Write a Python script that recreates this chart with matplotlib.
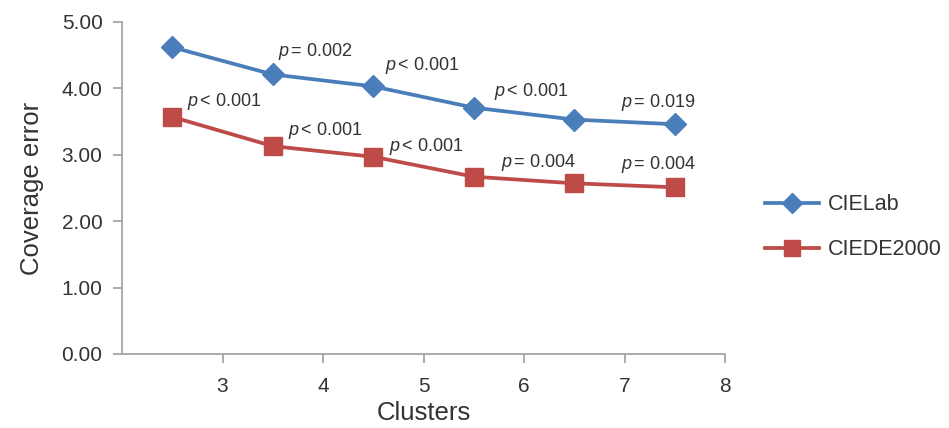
import matplotlib
matplotlib.use("Agg")
import matplotlib.pyplot as plt

plt.rcParams['font.family'] = ['Liberation Sans', 'DejaVu Sans']
plt.rcParams['mathtext.fontset'] = 'custom'
plt.rcParams['mathtext.it'] = 'Liberation Sans:italic'
plt.rcParams['mathtext.rm'] = 'Liberation Sans'

# data
clusters = [2.5, 3.5, 4.5, 5.5, 6.5, 7.5]
cielab = [4.62, 4.21, 4.03, 3.71, 3.53, 3.46]
ciede2000 = [3.57, 3.13, 2.97, 2.67, 2.57, 2.51]

# p-value labels (text, x, y in data units)
lab_notes = [r"$p\,$= 0.002", r"$p\,$< 0.001", r"$p\,$< 0.001", r"$p\,$= 0.019"]
lab_note_x = [3.55, 4.62, 5.70, 6.96]
lab_note_y = [4.55, 4.34, 3.96, 3.78]
de_notes = [r"$p\,$< 0.001", r"$p\,$< 0.001", r"$p\,$< 0.001", r"$p\,$= 0.004", r"$p\,$= 0.004"]
de_note_x = [2.65, 3.65, 4.66, 5.77, 6.96]
de_note_y = [3.80, 3.37, 3.12, 2.88, 2.86]

blue = '#4a7ebb'
red = '#be4b48'
grey = '#a6a6a6'
txt = '#333333'

fig = plt.figure(figsize=(9.49, 4.28), dpi=100)
ax = fig.add_axes([0.1286, 0.173, 0.6354, 0.7756])

ax.plot(clusters, cielab, color=blue, lw=2.7, marker='D', ms=11.5,
        markeredgecolor=blue, label='CIELab', zorder=3)
ax.plot(clusters, ciede2000, color=red, lw=2.7, marker='s', ms=13.5,
        markeredgecolor=red, label='CIEDE2000', zorder=3)

for t, x, y in zip(lab_notes, lab_note_x, lab_note_y):
    ax.text(x, y, t, fontsize=13, color=txt, va='center', ha='left')
for t, x, y in zip(de_notes, de_note_x, de_note_y):
    ax.text(x, y, t, fontsize=13, color=txt, va='center', ha='left')

ax.set_xlim(2, 8)
ax.set_ylim(0, 5)
ax.set_xticks([3, 4, 5, 6, 7, 8])
ax.set_yticks([0, 1, 2, 3, 4, 5])
ax.set_yticklabels(['%.2f' % v for v in [0, 1, 2, 3, 4, 5]])

for s in ['top', 'right']:
    ax.spines[s].set_visible(False)
for s in ['left', 'bottom']:
    ax.spines[s].set_color(grey)
    ax.spines[s].set_linewidth(1.3)

ax.tick_params(axis='x', direction='out', length=6.5, width=1.3, color=grey,
               pad=10, labelsize=15, labelcolor=txt)
ax.tick_params(axis='y', direction='out', length=6.5, width=1.3, color=grey,
               pad=7.5, labelsize=15, labelcolor=txt)

ax.set_ylabel('Coverage error', fontsize=18.5, color=txt, labelpad=13)
ax.set_xlabel('Clusters', fontsize=18.5, color=txt, labelpad=4)

ax.legend(loc='center left', bbox_to_anchor=(0.786, 0.469), bbox_transform=fig.transFigure,
          frameon=False, fontsize=15.5, handlelength=2.5, labelspacing=1.1,
          handletextpad=0.42, labelcolor=txt, markerscale=0.85)

plt.savefig('out.png', dpi=100)
